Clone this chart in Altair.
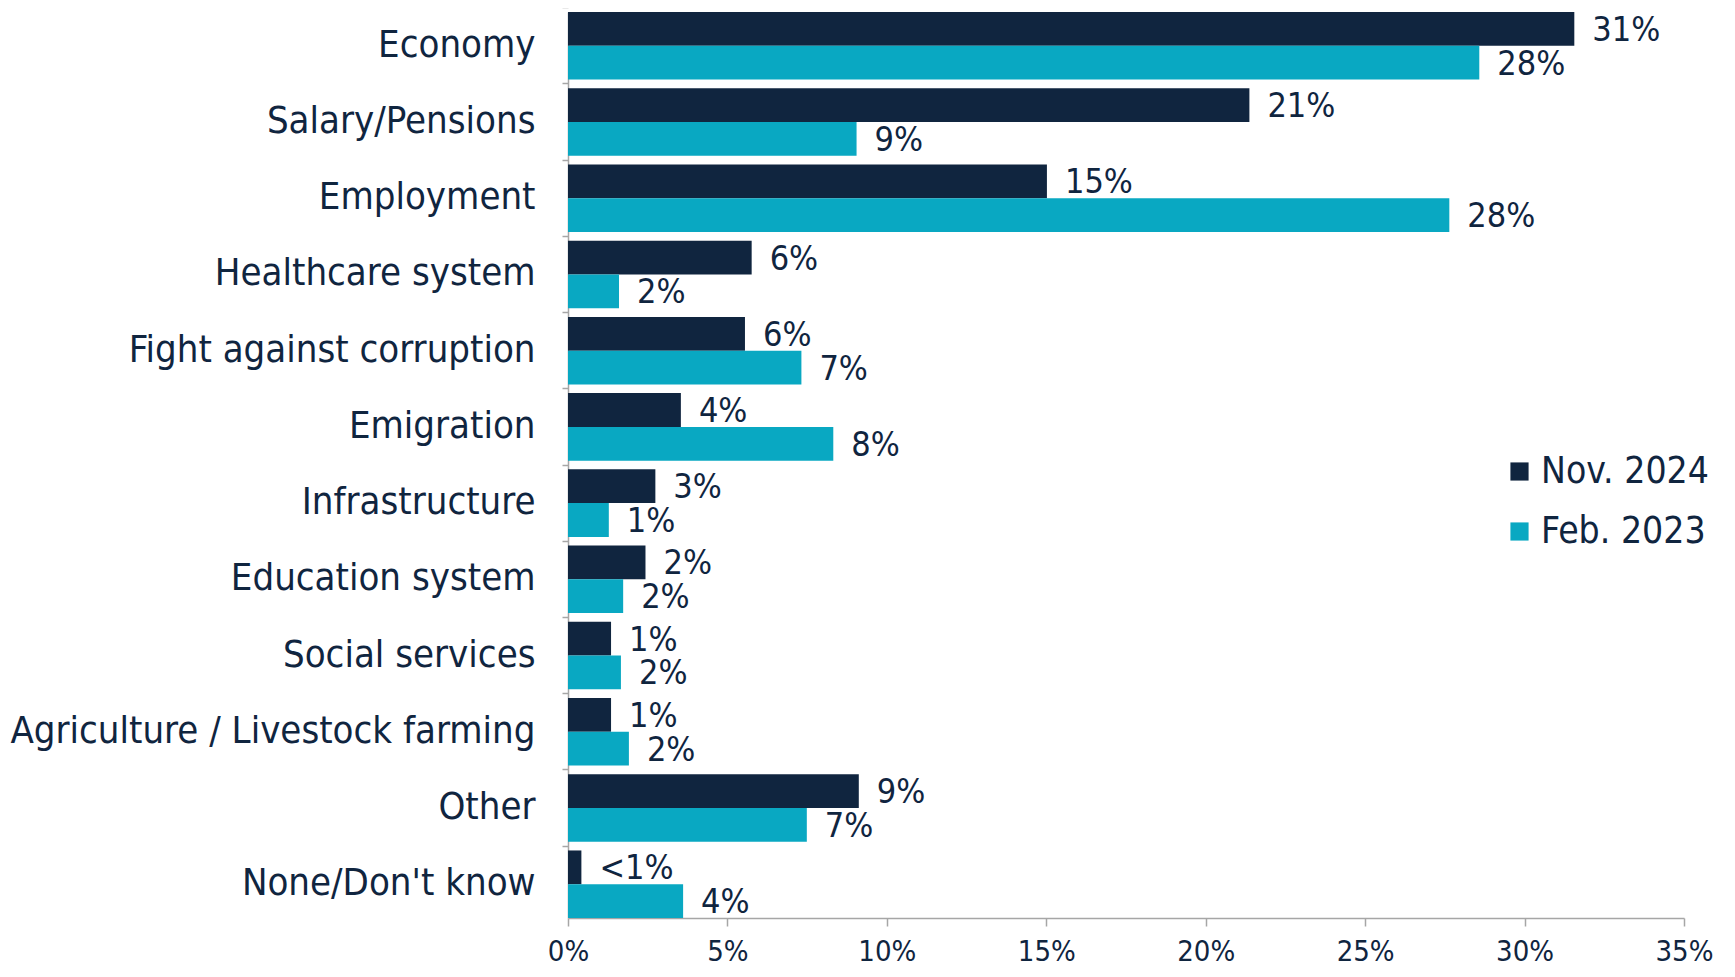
import altair as alt
import pandas as pd

categories = ["Economy", "Salary/Pensions", "Employment", "Healthcare system",
              "Fight against corruption", "Emigration", "Infrastructure",
              "Education system", "Social services",
              "Agriculture / Livestock farming", "Other", "None/Don't know"]
series = ["Nov. 2024", "Feb. 2023"]
nov = [31.56, 21.37, 15.02, 5.76, 5.55, 3.54, 2.74, 2.43, 1.35, 1.35, 9.12, 0.42]
feb = [28.58, 9.05, 27.64, 1.60, 7.32, 8.32, 1.28, 1.73, 1.66, 1.91, 7.49, 3.61]
nov_labels = ["31%", "21%", "15%", "6%", "6%", "4%", "3%", "2%", "1%", "1%", "9%", "<1%"]
feb_labels = ["28%", "9%", "28%", "2%", "7%", "8%", "1%", "2%", "2%", "2%", "7%", "4%"]
x_ticks = [0, 5, 10, 15, 20, 25, 30, 35]

rows = []
for i, c in enumerate(categories):
    rows.append({"cat": c, "series": series[0], "value": nov[i], "label": nov_labels[i]})
    rows.append({"cat": c, "series": series[1], "value": feb[i], "label": feb_labels[i]})
df = pd.DataFrame(rows)

DARK = "#10253F"
CYAN = "#09A8C2"
GREY = "#A6A6A6"
FONT = "'DejaVu Sans Condensed', 'Liberation Sans Narrow', 'DejaVu Sans', sans-serif"

y_enc = alt.Y("cat:N", sort=categories, title=None,
              scale=alt.Scale(paddingInner=0.114, paddingOuter=0),
              axis=alt.Axis(labelFontSize=38, labelColor=DARK, labelFont=FONT,
                            tickSize=6, tickColor=GREY, domainColor=GREY,
                            domainWidth=1.5, tickWidth=1.5,
                            labelPadding=27, bandPosition=-0.064, labelLimit=800))
yoff = alt.YOffset("series:N", sort=series)

base = alt.Chart(df)

bars = base.mark_bar().encode(
    x=alt.X("value:Q", title=None,
            scale=alt.Scale(domain=[0, 35], nice=False),
            axis=alt.Axis(values=x_ticks,
                          labelExpr="datum.value + '%'",
                          labelFontSize=29, labelColor=DARK, labelFont=FONT,
                          labelFlush=False,
                          tickSize=8, tickColor=GREY, domainColor=GREY,
                          domainWidth=1.5, tickWidth=1.5, labelPadding=11,
                          grid=False)),
    y=y_enc,
    yOffset=yoff,
    color=alt.Color("series:N", sort=series,
                    scale=alt.Scale(domain=series, range=[DARK, CYAN]),
                    legend=alt.Legend(title=None, orient="none", legendX=933, legendY=441,
                                      symbolType="square", symbolSize=330,
                                      labelFontSize=37, labelColor=DARK, labelFont=FONT,
                                      labelLimit=400,
                                      rowPadding=22, symbolStrokeWidth=0, labelOffset=3)),
)

text = base.mark_text(align="left", baseline="middle", dx=18, dy=2,
                      fontSize=34, color=DARK, font=FONT).encode(
    x="value:Q",
    y=alt.Y("cat:N", sort=categories),
    yOffset=yoff,
    text="label:N",
)

chart = alt.layer(bars, text).properties(
    width=1116, height=906,
    padding={"left": 560, "top": 4, "right": 40, "bottom": 52},
    autosize=alt.AutoSizeParams(type="none"),
    background="white",
).configure_view(stroke=None)

chart.save("out.html", embed_options={"renderer": "svg", "actions": False})
